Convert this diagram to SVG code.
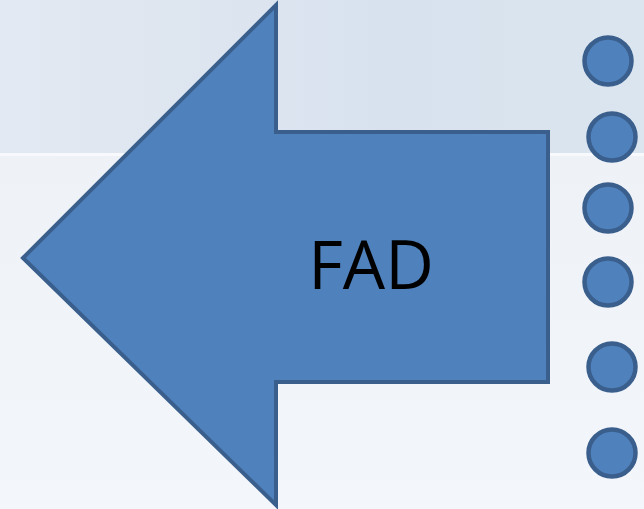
<svg xmlns="http://www.w3.org/2000/svg" width="644" height="509" viewBox="0 0 644 509">
<style>
.shape{fill:#4F81BD;stroke:#3A5F8C;stroke-width:4}
.dot{fill:#4F81BD;stroke:#3A5F8C;stroke-width:4.5}
.lbl{font-family:"Open Sans","Liberation Sans",sans-serif;font-size:67px;fill:#000}
</style>
<defs>
<linearGradient id="top" x1="0" y1="0" x2="1" y2="0">
<stop offset="0" stop-color="#e3e9f2"/>
<stop offset="0.6" stop-color="#d8e2ee"/>
<stop offset="1" stop-color="#dbe5ef"/>
</linearGradient>
<linearGradient id="bot" x1="0" y1="0" x2="0" y2="1">
<stop offset="0" stop-color="#eef2f7"/>
<stop offset="1" stop-color="#f3f6fa"/>
</linearGradient>
</defs>
<rect x="0" y="0" width="644" height="155" fill="url(#top)"/>
<rect x="0" y="155" width="644" height="354" fill="url(#bot)"/>
<rect x="0" y="153" width="644" height="3" fill="#f7f9fc"/>
<g id="arrow">
<polygon class="shape" points="23,258 276,5 276,132 548,132 548,382 276,382 276,505"/>
<text class="lbl" x="371" y="289" text-anchor="middle">FAD</text>
</g>
<g id="c1"><circle class="dot" cx="608" cy="61" r="23.5"/></g>
<g id="c2"><circle class="dot" cx="612" cy="137" r="23.5"/></g>
<g id="c3"><circle class="dot" cx="608" cy="208" r="23.5"/></g>
<g id="c4"><circle class="dot" cx="608" cy="282" r="23.5"/></g>
<g id="c5"><circle class="dot" cx="612" cy="367" r="23.5"/></g>
<g id="c6"><circle class="dot" cx="612" cy="453" r="23.5"/></g>
<g id="connectors"></g>
</svg>
